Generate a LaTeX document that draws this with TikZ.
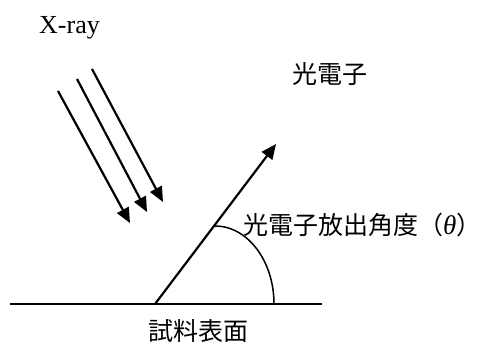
\documentclass[tikz,border=0pt]{standalone}
\usepackage{fontspec}
\setmainfont{Liberation Serif}
\newfontfamily\jp{Noto Sans CJK JP}
\usetikzlibrary{arrows.meta}
\tikzset{
  ray/.style={line width=2.2pt,-{Triangle[length=15pt,width=13pt]}},
  surf/.style={line width=1.8pt},
  lbl/.style={inner sep=0pt,font=\jp\fontsize{25}{30}\selectfont},
}
\begin{document}
\begin{tikzpicture}[x=1pt,y=-1pt]
\useasboundingbox (0,0) rectangle (485,343);
% X-ray arrows
\coordinate (a1s) at (58,91);  \coordinate (a1e) at (130,223);
\coordinate (a2s) at (77,79);  \coordinate (a2e) at (147,212);
\coordinate (a3s) at (92,69);  \coordinate (a3e) at (163,202);
\draw[ray] (a1s) -- (a1e);
\draw[ray] (a2s) -- (a2e);
\draw[ray] (a3s) -- (a3e);
% surface
\coordinate (sl) at (10,304); \coordinate (sr) at (322,304);
\draw[surf] (sl) -- (sr);
% photoelectron
\coordinate (o) at (155,304); \coordinate (pe) at (276,144);
\draw[ray] (o) -- (pe);
% angle arc
\coordinate (arcs) at (215,226);
\draw[line width=1.5pt] (arcs) arc[start angle=-90,end angle=0,x radius=59,y radius=78];
% labels
\node[anchor=base west,inner sep=0pt,font=\fontsize{26}{30}\selectfont] (xray) at (39,33) {X-ray};
\node[lbl,anchor=west] (pel) at (292,74) {光電子};
\node[lbl,anchor=west] (ang) at (243,225) {光電子放出角度（{\rmfamily\itshape\fontsize{27}{30}\selectfont θ}）};
\node[lbl,anchor=west] (sur) at (148,331) {試料表面};
\end{tikzpicture}
\end{document}
